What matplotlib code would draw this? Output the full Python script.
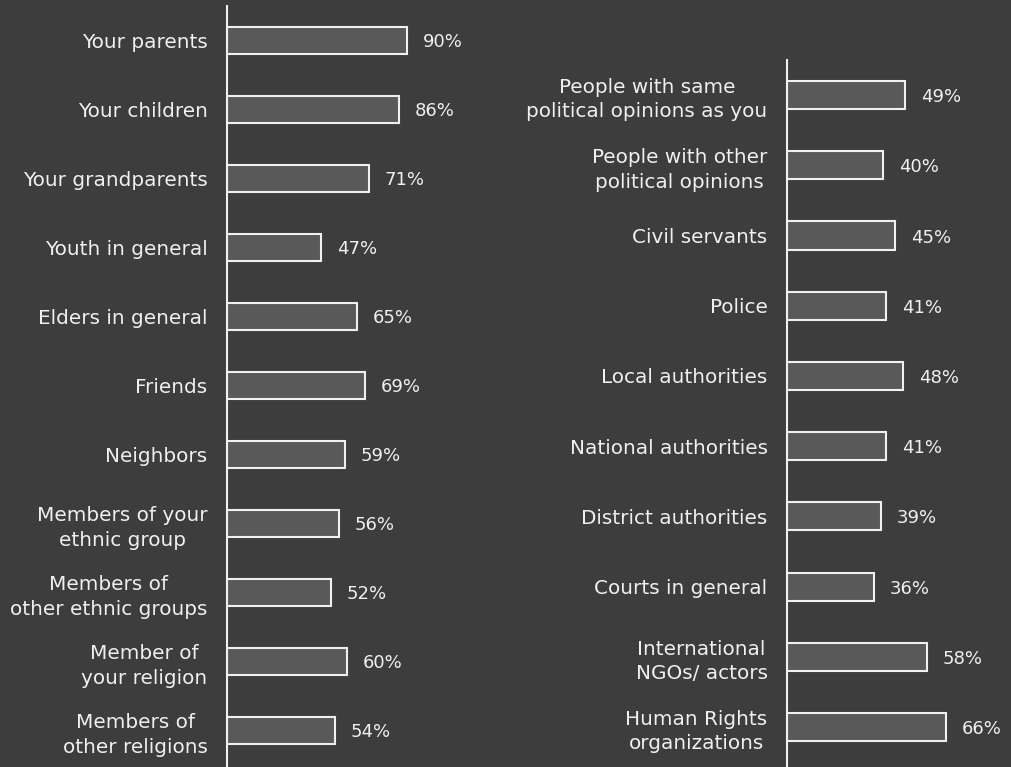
import matplotlib.pyplot as plt

# Share of respondents who trust each group, personal circle on the left,
# institutions and public actors on the right.
left_labels = [
    'Your parents', 'Your children', 'Your grandparents', 'Youth in general',
    'Elders in general', 'Friends', 'Neighbors',
    'Members of your\nethnic group', 'Members of\nother ethnic groups',
    'Member of\nyour religion', 'Members of\nother religions',
]
left_values = [90, 86, 71, 47, 65, 69, 59, 56, 52, 60, 54]

right_labels = [
    'People with same\npolitical opinions as you',
    'People with other\npolitical opinions',
    'Civil servants', 'Police', 'Local authorities', 'National authorities',
    'District authorities', 'Courts in general',
    'International\nNGOs/ actors', 'Human Rights\norganizations',
]
right_values = [49, 40, 45, 41, 48, 41, 39, 36, 58, 66]

bg = '#3d3d3d'
bar_fill = '#595959'
fg = '#f0f0f0'

plt.rcParams['font.family'] = ['DejaVu Sans']

W, H = 1012, 767
fig = plt.figure(figsize=(W / 100, H / 100), dpi=100, facecolor=bg)


def panel(rect, labels, values, bottom_pad):
    ax = fig.add_axes(rect, facecolor='none')
    pos = range(len(values))
    ax.barh(pos, values, height=0.4, color=bar_fill, edgecolor=fg,
            linewidth=1.5)
    ax.set_xlim(0, 100)
    ax.set_ylim(len(values) - 1 + bottom_pad, -0.5)
    for p, v in zip(pos, values):
        ax.annotate(f'{v}%', (v, p), xytext=(11.5, 0),
                    textcoords='offset points', va='center_baseline',
                    ha='left', color=fg, fontsize=13)
    ax.set_yticks(list(pos))
    ax.set_yticklabels(labels, fontsize=14.4, color=fg, linespacing=1.35)
    for t in ax.get_yticklabels():
        t.set_multialignment('center')
    ax.tick_params(axis='y', length=0, pad=14)
    ax.set_xticks([])
    for side in ('top', 'right', 'bottom'):
        ax.spines[side].set_visible(False)
    ax.spines['left'].set_color(fg)
    ax.spines['left'].set_linewidth(1.5)
    return ax


# left panel: spine at x=227, spans y=6..767, 2 px per percent
panel([227 / W, 0, 200 / W, 761 / H], left_labels, left_values, 0.53)
# right panel: spine at x=787, spans y=60..767, ~2.41 px per percent
panel([787 / W, 0, 241 / W, 707 / H], right_labels, right_values, 0.57)

fig.savefig('out.png', dpi=100, facecolor=bg)
